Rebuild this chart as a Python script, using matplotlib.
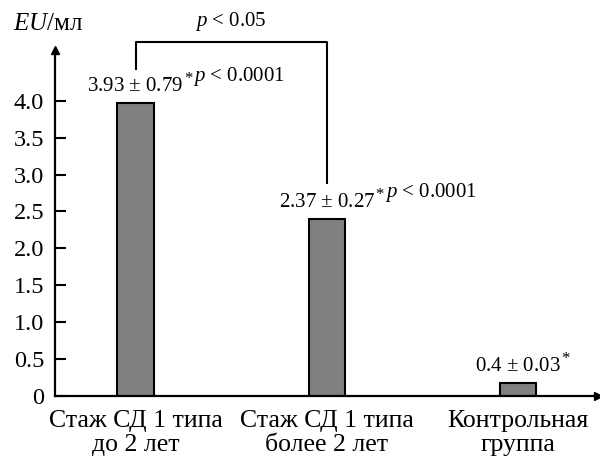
import matplotlib.pyplot as plt

plt.rcParams['font.family'] = ['Liberation Serif', 'DejaVu Serif']
plt.rcParams['mathtext.fontset'] = 'custom'
plt.rcParams['mathtext.rm'] = 'Liberation Serif'
plt.rcParams['mathtext.it'] = 'Liberation Serif:italic'

groups = ['Стаж СД 1 типа\nдо 2 лет', 'Стаж СД 1 типа\nболее 2 лет', 'Контрольная\nгруппа']
heights = [3.97, 2.40, 0.18]
means = ['3.93', '2.37', '0.4']
errs = ['0.79', '0.27', '0.03']
pvals = ['0.0001', '0.0001', None]
yticks = [0, 0.5, 1.0, 1.5, 2.0, 2.5, 3.0, 3.5, 4.0]
ytick_labels = ['0', '0.5', '1.0', '1.5', '2.0', '2.5', '3.0', '3.5', '4.0']

fig = plt.figure(figsize=(6, 4.61), dpi=100)
ax = fig.add_axes([0.092, 0.141, 0.905, 0.751])
x = list(range(len(groups)))
ax.bar(x, heights, width=0.19, color='#808080', edgecolor='black', linewidth=1.5)
ax.set_xlim(-0.42, 2.42)
ax.set_ylim(0, 4.69)

for s in ['top', 'right']:
    ax.spines[s].set_visible(False)
for s in ['left', 'bottom']:
    ax.spines[s].set_linewidth(1.6)
ax.plot(0, 1, '^k', transform=ax.transAxes, clip_on=False, markersize=6)
ax.plot(1, 0, '>k', transform=ax.transAxes, clip_on=False, markersize=6)

ax.set_yticks(yticks)
ax.set_yticklabels(ytick_labels, fontsize=17.5)
ax.tick_params(axis='y', direction='in', length=8, width=1.5, pad=8)
ax.set_xticks(x)
ax.set_xticklabels(groups, fontsize=18.5, linespacing=1.15)
ax.tick_params(axis='x', length=0, pad=10)

for i in x:
    t = ax.annotate(f'{means[i]} $\\pm$ {errs[i]}', xy=(i, heights[i]), xytext=(0, 5),
                    textcoords='offset points', ha='center', va='bottom', fontsize=15)
    ax.annotate('*', xy=(1, 1), xycoords=t, xytext=(0.5, 4), textcoords='offset points',
                ha='left', va='top', fontsize=12)
    if pvals[i] is not None:
        ax.annotate(f'$\\it{{p}}$ < {pvals[i]}', xy=(1, 0), xycoords=t, xytext=(7, 6),
                    textcoords='offset points', ha='left', va='bottom', fontsize=15)

# significance bracket
ax.plot([0, 0, 1, 1], [4.43, 4.80, 4.80, 2.89], color='black', linewidth=1.5, clip_on=False)
ax.text(0.5, 4.92, '$\\it{p}$ < 0.05', ha='center', va='bottom', fontsize=15)

fig.text(0.022, 0.925, '$\\it{EU}$/мл', fontsize=18, ha='left', va='bottom')

fig.savefig('out.png', dpi=100)
